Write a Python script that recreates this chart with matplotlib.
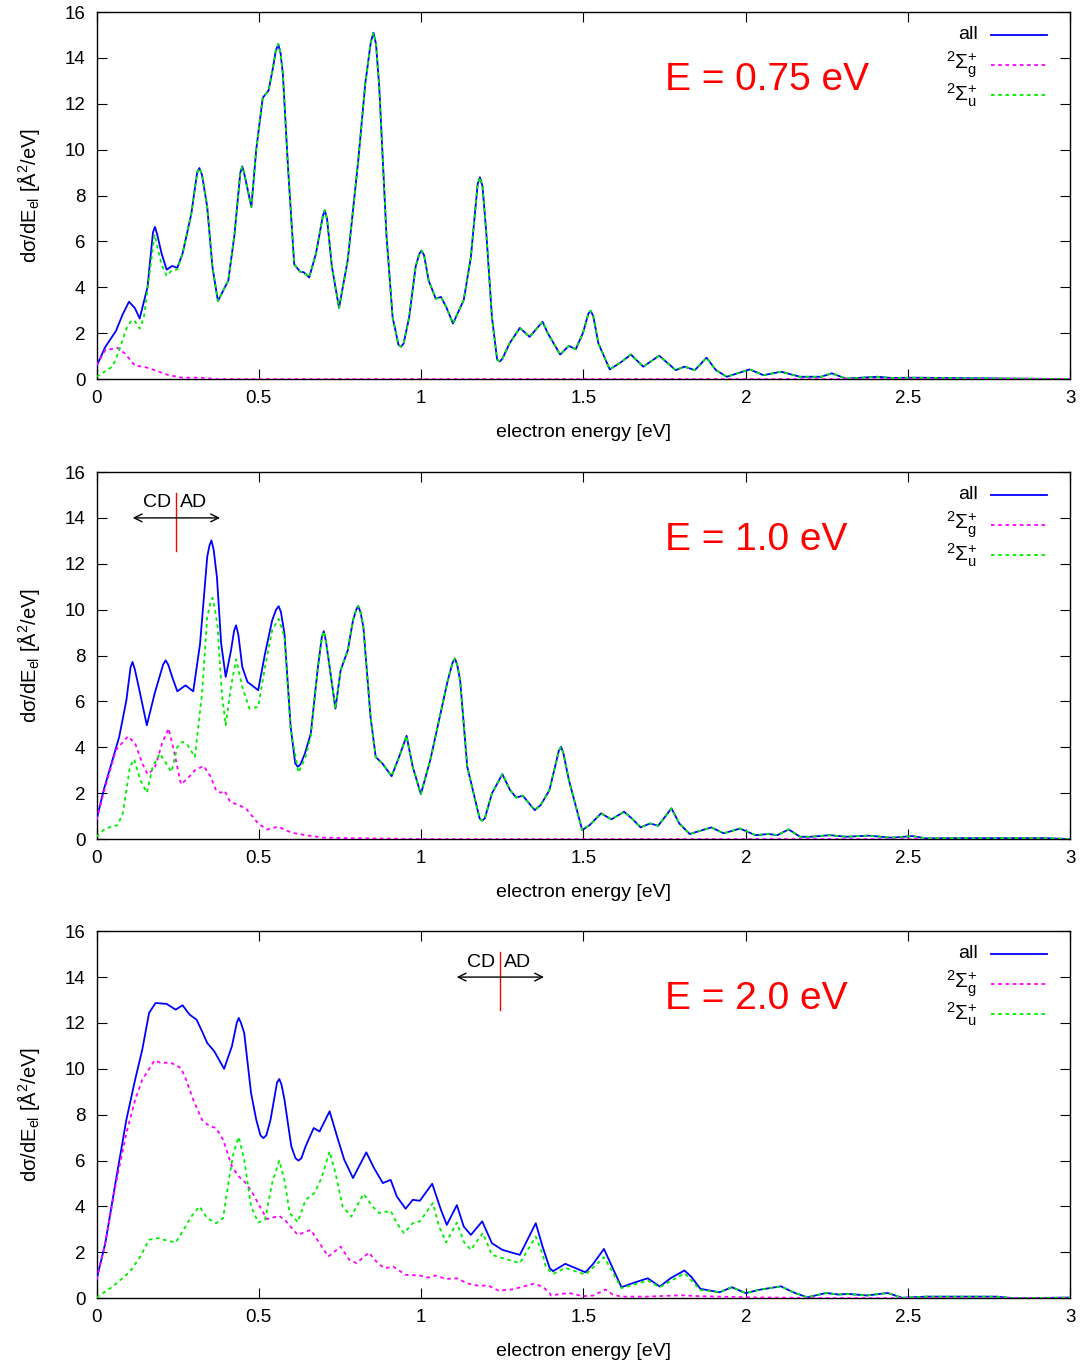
import matplotlib
matplotlib.use('Agg')
import matplotlib.pyplot as plt

plt.rcParams['font.family'] = ['Liberation Sans', 'DejaVu Sans']
plt.rcParams['mathtext.fontset'] = 'custom'
plt.rcParams['mathtext.rm'] = 'Liberation Sans'
plt.rcParams['mathtext.it'] = 'Liberation Sans:italic'
plt.rcParams['mathtext.bf'] = 'Liberation Sans:bold'

# ---- E = 0.75 eV ----
all075_x = [0.0, 0.027, 0.06, 0.08, 0.10, 0.118, 0.133, 0.157, 0.174, 0.18, 0.187, 0.20, 0.216,
            0.233, 0.249, 0.265, 0.292, 0.31, 0.317, 0.325, 0.341, 0.357, 0.374, 0.406, 0.425,
            0.443, 0.449, 0.456, 0.477, 0.492, 0.512, 0.530, 0.544, 0.552, 0.56, 0.567, 0.574,
            0.59, 0.609, 0.628, 0.638, 0.655, 0.676, 0.697, 0.703, 0.71, 0.725, 0.747, 0.774,
            0.806, 0.828, 0.845, 0.853, 0.861, 0.871, 0.893, 0.912, 0.93, 0.938, 0.946, 0.963,
            0.983, 0.994, 1.001, 1.009, 1.023, 1.045, 1.061, 1.077, 1.098, 1.131, 1.153, 1.174,
            1.181, 1.189, 1.201, 1.218, 1.234, 1.242, 1.25, 1.272, 1.304, 1.334, 1.374, 1.39,
            1.428, 1.455, 1.476, 1.498, 1.515, 1.522, 1.53, 1.546, 1.581, 1.617, 1.646, 1.684,
            1.733, 1.784, 1.811, 1.843, 1.879, 1.908, 1.941, 2.012, 2.054, 2.108, 2.167, 2.232,
            2.265, 2.308, 2.405, 2.448, 2.524, 2.675, 3.0]
all075_y = [0.55, 1.4, 2.1, 2.8, 3.37, 3.1, 2.64, 4.0, 6.4, 6.63, 6.3, 5.5, 4.77,
            4.93, 4.85, 5.47, 7.2, 9.0, 9.2, 8.9, 7.5, 4.9, 3.4, 4.3, 6.3,
            9.0, 9.27, 8.9, 7.5, 10.0, 12.26, 12.58, 13.6, 14.3, 14.6, 14.2, 13.3,
            9.2, 5.0, 4.67, 4.66, 4.43, 5.47, 7.1, 7.36, 7.0, 4.9, 3.1, 5.2,
            9.5, 12.9, 14.7, 15.1, 14.6, 12.7, 6.3, 2.7, 1.5, 1.41, 1.55, 2.7,
            4.9, 5.45, 5.6, 5.4, 4.3, 3.5, 3.58, 3.15, 2.42, 3.44, 5.3, 8.5,
            8.8, 8.4, 6.3, 2.7, 0.85, 0.77, 0.88, 1.55, 2.23, 1.84, 2.5, 2.0,
            1.07, 1.45, 1.3, 2.0, 2.85, 2.98, 2.75, 1.55, 0.42, 0.75, 1.07, 0.54,
            1.02, 0.39, 0.54, 0.39, 0.93, 0.39, 0.1, 0.42, 0.17, 0.32, 0.1, 0.1,
            0.25, 0.02, 0.1, 0.05, 0.06, 0.04, 0.0]
g075_x = [0.0, 0.027, 0.065, 0.087, 0.119, 0.146, 0.179, 0.222, 0.265, 0.32, 0.37, 3.0]
g075_y = [0.6, 1.26, 1.36, 1.12, 0.58, 0.54, 0.39, 0.17, 0.06, 0.06, 0.0, 0.0]
u075_x = [0.0, 0.05, 0.07, 0.092, 0.108, 0.119, 0.133, 0.146, 0.157, 0.179, 0.2, 0.216, 0.233, 0.249]
u075_y = [0.1, 0.55, 1.26, 2.2, 2.57, 2.5, 2.2, 2.7, 3.9, 6.3, 5.0, 4.5, 4.75, 4.78]

# ---- E = 1.0 eV ----
all10_x = [0.0, 0.022, 0.049, 0.07, 0.092, 0.105, 0.111, 0.118, 0.13, 0.155, 0.179, 0.205,
           0.213, 0.221, 0.233, 0.249, 0.274, 0.298, 0.319, 0.341, 0.348, 0.354, 0.361, 0.371,
           0.384, 0.398, 0.414, 0.424, 0.43, 0.437, 0.449, 0.465, 0.498, 0.519, 0.541, 0.553,
           0.561, 0.568, 0.579, 0.598, 0.612, 0.62, 0.628, 0.642, 0.66, 0.682, 0.694, 0.70,
           0.707, 0.718, 0.736, 0.752, 0.774, 0.79, 0.8, 0.806, 0.813, 0.822, 0.844, 0.86,
           0.882, 0.909, 0.936, 0.955, 0.974, 0.999, 1.028, 1.055, 1.082, 1.097, 1.104, 1.111,
           1.12, 1.142, 1.18, 1.188, 1.196, 1.218, 1.25, 1.274, 1.293, 1.313, 1.35, 1.368,
           1.395, 1.424, 1.431, 1.438, 1.455, 1.496, 1.519, 1.554, 1.586, 1.625, 1.649, 1.676,
           1.705, 1.73, 1.771, 1.795, 1.827, 1.894, 1.932, 1.982, 2.029, 2.07, 2.097, 2.132,
           2.167, 2.2, 2.259, 2.308, 2.378, 2.448, 2.513, 2.556, 2.664, 2.772, 2.923, 3.0]
all10_y = [0.83, 2.13, 3.44, 4.46, 6.05, 7.5, 7.72, 7.4, 6.63, 4.96, 6.34, 7.6,
           7.79, 7.6, 7.07, 6.44, 6.7, 6.44, 8.52, 12.3, 12.8, 13.02, 12.6, 11.4,
           8.52, 7.07, 8.2, 9.1, 9.32, 8.9, 7.5, 6.85, 6.49, 8.08, 9.53, 10.0,
           10.15, 9.9, 8.95, 4.9, 3.3, 3.15, 3.25, 3.73, 4.6, 7.5, 8.8, 9.06,
           8.6, 7.5, 5.69, 7.36, 8.23, 9.53, 10.0, 10.16, 9.9, 9.25, 5.33, 3.58,
           3.27, 2.74, 3.73, 4.5, 3.15, 1.96, 3.44, 5.18, 6.92, 7.7, 7.87, 7.6,
           6.92, 3.15, 0.9, 0.8, 0.9, 1.99, 2.83, 2.13, 1.81, 1.89, 1.26, 1.48,
           2.13, 3.85, 4.02, 3.75, 2.57, 0.39, 0.61, 1.12, 0.86, 1.19, 0.9, 0.51,
           0.68, 0.58, 1.34, 0.68, 0.22, 0.51, 0.25, 0.46, 0.17, 0.22, 0.17, 0.42,
           0.1, 0.1, 0.17, 0.1, 0.15, 0.06, 0.13, 0.03, 0.04, 0.04, 0.04, 0.0]
g10_x = [0.0, 0.027, 0.06, 0.097, 0.119, 0.141, 0.157, 0.179, 0.202, 0.222, 0.238, 0.26,
         0.281, 0.303, 0.33, 0.352, 0.368, 0.382, 0.395, 0.411, 0.438, 0.46, 0.498, 0.525,
         0.56, 0.6, 0.644, 0.698, 0.785, 0.893, 1.0, 3.0]
g10_y = [0.83, 2.28, 3.88, 4.48, 4.17, 3.3, 2.83, 3.08, 4.17, 4.82, 3.88, 2.39,
         2.64, 3.0, 3.19, 2.71, 2.13, 2.02, 2.1, 1.63, 1.48, 1.34, 0.68, 0.42,
         0.54, 0.28, 0.17, 0.06, 0.04, 0.02, 0.0, 0.0]
u10_x = [0.0, 0.027, 0.065, 0.081, 0.103, 0.116, 0.135, 0.155, 0.173, 0.195, 0.211, 0.231,
         0.249, 0.265, 0.281, 0.303, 0.325, 0.341, 0.351, 0.357, 0.364, 0.373, 0.386, 0.398,
         0.414, 0.43, 0.449, 0.471, 0.498, 0.519, 0.541, 0.561, 0.579, 0.598, 0.622, 0.642,
         0.66]
u10_y = [0.1, 0.46, 0.61, 1.12, 3.15, 3.48, 2.57, 2.02, 3.15, 3.73, 3.37, 2.93,
         4.02, 4.24, 4.09, 3.58, 6.34, 9.68, 10.3, 10.52, 10.1, 9.25, 6.34, 4.96,
         6.63, 7.84, 6.63, 5.69, 5.76, 7.5, 9.1, 9.6, 8.81, 4.75, 2.9, 3.5,
         4.46]

# ---- E = 2.0 eV ----
all20_x = [0.0, 0.027, 0.06, 0.092, 0.119, 0.141, 0.162, 0.182, 0.216, 0.244, 0.265, 0.287,
           0.308, 0.325, 0.341, 0.363, 0.393, 0.417, 0.432, 0.438, 0.445, 0.455, 0.476, 0.492,
           0.505, 0.514, 0.523, 0.536, 0.556, 0.563, 0.57, 0.579, 0.6, 0.613, 0.622, 0.631,
           0.644, 0.669, 0.687, 0.718, 0.741, 0.763, 0.79, 0.831, 0.855, 0.882, 0.906, 0.925,
           0.952, 0.974, 0.996, 1.034, 1.061, 1.079, 1.11, 1.131, 1.153, 1.188, 1.218, 1.25,
           1.304, 1.353, 1.374, 1.396, 1.406, 1.444, 1.506, 1.53, 1.563, 1.584, 1.617, 1.654,
           1.698, 1.735, 1.768, 1.811, 1.833, 1.86, 1.919, 1.957, 2.0, 2.038, 2.108, 2.146,
           2.189, 2.248, 2.286, 2.313, 2.373, 2.437, 2.481, 2.556, 2.632, 2.772, 2.826, 3.0]
all20_y = [0.8, 2.4, 5.16, 7.78, 9.53, 10.84, 12.44, 12.87, 12.83, 12.58, 12.77, 12.36,
           12.15, 11.64, 11.13, 10.76, 10.0, 10.98, 12.0, 12.22, 12.0, 11.56, 8.95, 7.78,
           7.1, 6.98, 7.1, 7.78, 9.4, 9.56, 9.3, 8.65, 6.62, 6.1, 6.0, 6.1,
           6.62, 7.42, 7.27, 8.15, 7.05, 6.04, 5.24, 6.36, 5.67, 5.02, 5.16, 4.44,
           3.9, 4.29, 4.25, 4.99, 3.85, 3.2, 4.06, 3.13, 2.76, 3.35, 2.4, 2.11,
           1.89, 3.27, 2.25, 1.31, 1.18, 1.5, 1.13, 1.5, 2.15, 1.5, 0.48, 0.67,
           0.87, 0.51, 0.87, 1.21, 0.92, 0.41, 0.26, 0.48, 0.22, 0.36, 0.52, 0.26,
           0.04, 0.23, 0.16, 0.19, 0.12, 0.23, 0.02, 0.07, 0.07, 0.07, 0.0, 0.03]
g20_x = [0.0, 0.027, 0.06, 0.092, 0.119, 0.141, 0.179, 0.2, 0.227, 0.26, 0.276, 0.298,
         0.325, 0.346, 0.368, 0.39, 0.417, 0.438, 0.46, 0.481, 0.503, 0.525, 0.563, 0.584,
         0.62, 0.66, 0.687, 0.714, 0.752, 0.779, 0.801, 0.839, 0.866, 0.887, 0.914, 0.952,
         0.996, 1.023, 1.044, 1.077, 1.11, 1.142, 1.174, 1.207, 1.239, 1.282, 1.347, 1.374,
         1.396, 1.4, 1.433, 1.455, 1.498, 1.53, 1.568, 1.59, 1.617, 1.692, 1.8, 1.854,
         2.016, 2.232, 3.0]
g20_y = [0.8, 2.4, 5.02, 7.2, 8.65, 9.53, 10.37, 10.25, 10.28, 10.04, 9.53, 8.65,
         7.78, 7.52, 7.42, 6.91, 5.75, 5.31, 5.02, 4.58, 4.0, 3.45, 3.59, 3.35,
         2.76, 2.98, 2.4, 1.82, 2.25, 1.67, 1.53, 1.99, 1.53, 1.31, 1.38, 1.02,
         0.99, 0.9, 0.99, 0.84, 0.87, 0.65, 0.55, 0.55, 0.33, 0.39, 0.63, 0.51,
         0.22, 0.12, 0.19, 0.23, 0.09, 0.12, 0.38, 0.16, 0.07, 0.07, 0.13, 0.09,
         0.04, 0.01, 0.0]
u20_x = [0.0, 0.049, 0.103, 0.135, 0.162, 0.189, 0.216, 0.244, 0.265, 0.292, 0.317, 0.341,
         0.368, 0.39, 0.411, 0.422, 0.438, 0.455, 0.476, 0.498, 0.519, 0.541, 0.563, 0.579,
         0.595, 0.62, 0.644, 0.671, 0.693, 0.718, 0.736, 0.758, 0.785, 0.801, 0.823, 0.85,
         0.871, 0.906, 0.925, 0.947, 0.974, 0.996, 1.036, 1.055, 1.077, 1.11, 1.131, 1.153,
         1.19, 1.218, 1.25, 1.304, 1.353, 1.374, 1.384, 1.406, 1.444, 1.506, 1.563, 1.584,
         1.617, 1.698, 1.735, 1.811, 1.86]
u20_y = [0.03, 0.5, 1.16, 1.82, 2.55, 2.62, 2.52, 2.43, 2.91, 3.56, 4.0, 3.49,
         3.27, 3.49, 5.45, 6.33, 7.03, 6.04, 4.0, 3.3, 3.42, 5.02, 6.0, 5.13,
         3.71, 3.32, 4.29, 4.58, 5.24, 6.4, 5.45, 4.0, 3.56, 4.0, 4.55, 4.0,
         3.71, 3.81, 3.27, 2.84, 3.27, 3.35, 4.15, 3.13, 2.43, 3.3, 2.47, 2.11,
         2.84, 1.89, 1.75, 1.53, 2.69, 1.93, 1.35, 1.06, 1.32, 1.03, 1.79, 1.28,
         0.44, 0.77, 0.48, 1.09, 0.36]


def join_tail(px, py, ax_x, ax_y, after):
    # the Sigma_u part coincides with the total once Sigma_g has died out
    xs = list(px) + [x for x in ax_x if x > after]
    ys = list(py) + [y for x, y in zip(ax_x, ax_y) if x > after]
    return xs, ys


panels = [
    ("E = 0.75 eV", all075_x, all075_y, g075_x, g075_y,
     join_tail(u075_x, u075_y, all075_x, all075_y, 0.25), None),
    ("E = 1.0 eV", all10_x, all10_y, g10_x, g10_y,
     join_tail(u10_x, u10_y, all10_x, all10_y, 0.665), 0.246),
    ("E = 2.0 eV", all20_x, all20_y, g20_x, g20_y,
     join_tail(u20_x, u20_y, all20_x, all20_y, 1.87), 1.244),
]

xticks = [0, 0.5, 1, 1.5, 2, 2.5, 3]
xtick_labels = ["0", "0.5", "1", "1.5", "2", "2.5", "3"]
yticks = [0, 2, 4, 6, 8, 10, 12, 14, 16]

fig = plt.figure(figsize=(10.88, 13.67), dpi=100)
bottoms = [0.7227, 0.3862, 0.0503]

for (title, ax_x, ax_y, gx, gy, (ux, uy), cd_x), b in zip(panels, bottoms):
    ax = fig.add_axes([0.0887, b, 0.8952, 0.2685])
    ax.plot(ax_x, ax_y, color='#0000ff', lw=1.3, zorder=3)
    ax.plot(gx, gy, color='#ff00ff', lw=1.3, linestyle=(0, (2, 2)), zorder=4)
    ax.plot(ux, uy, color='#00ee00', lw=1.3, linestyle=(0, (2, 2)), zorder=5)

    ax.set_xlim(0, 3)
    ax.set_ylim(0, 16)
    ax.set_xticks(xticks)
    ax.set_xticklabels(xtick_labels)
    ax.set_yticks(yticks)
    ax.tick_params(direction='in', top=True, right=True, length=7, width=0.8,
                   labelsize=13.5, pad=8)
    for s in ax.spines.values():
        s.set_linewidth(1.0)
    ax.set_xlabel("electron energy [eV]", fontsize=14, labelpad=12)
    ax.set_ylabel(r"dσ/dE$_{\mathrm{el}}$ [Å$^{2}$/eV]", fontsize=14.5, labelpad=16)

    ax.text(1.751, 13.05, title, color='red', fontsize=28, ha='left', va='center')

    # key, drawn gnuplot style with the label to the left of the sample
    keys = [("all", '#0000ff', '-', 14),
            (r"$^{2}\Sigma_{\mathrm{g}}^{+}$", '#ff00ff', (0, (2, 2)), 15),
            (r"$^{2}\Sigma_{\mathrm{u}}^{+}$", '#00ee00', (0, (2, 2)), 15)]
    for i, (lab, c, ls, fs) in enumerate(keys):
        yk = 0.938 - i * 0.082
        ax.plot([0.918, 0.976], [yk, yk], transform=ax.transAxes, color=c, lw=1.3,
                linestyle=ls, clip_on=False)
        ax.text(0.905, yk, lab, transform=ax.transAxes, ha='right', va='center', fontsize=fs)

    if cd_x is not None:
        ax.annotate('', xy=(cd_x - 0.143, 14.0), xytext=(cd_x + 0.143, 14.0),
                    arrowprops=dict(arrowstyle='<->', color='black', lw=1.0,
                                    mutation_scale=14))
        ax.plot([cd_x, cd_x], [12.55, 15.1], color='red', lw=1.0)
        ax.text(cd_x - 0.015, 14.65, "CD", ha='right', va='center', fontsize=14)
        ax.text(cd_x + 0.012, 14.65, "AD", ha='left', va='center', fontsize=14)

fig.savefig("out.png", dpi=100)
